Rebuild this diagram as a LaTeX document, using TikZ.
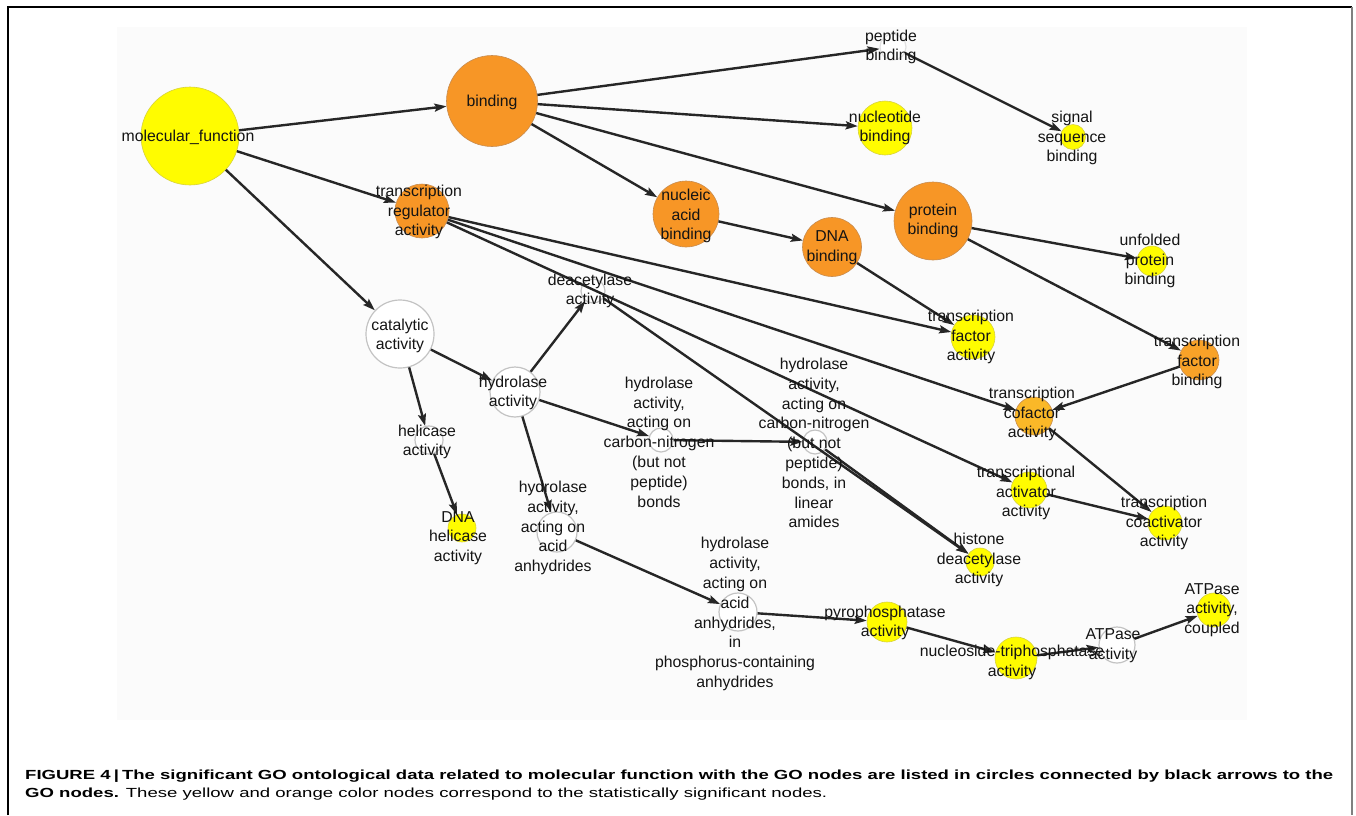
\documentclass[tikz,border=0pt]{standalone}
\usepackage{fontspec}
\setmainfont{Liberation Sans}
\usetikzlibrary{arrows.meta}
\definecolor{goyel}{RGB}{255,252,0}
\definecolor{goyeld}{RGB}{215,210,60}
\definecolor{goora}{RGB}{247,150,38}
\definecolor{goorad}{RGB}{200,140,80}
\definecolor{gogold}{RGB}{250,184,40}
\definecolor{gotfb}{RGB}{248,162,40}
\definecolor{edgec}{RGB}{38,38,38}
\definecolor{ringc}{RGB}{195,195,195}
\definecolor{bgc}{RGB}{251,251,251}
\definecolor{labc}{RGB}{20,20,20}
\begin{document}
\begin{tikzpicture}[x=1pt,y=-1pt,
  yelnode/.style={circle, inner sep=0pt, fill=goyel, draw=goyeld, line width=0.6pt, minimum size=#1},
  oranode/.style={circle, inner sep=0pt, fill=goora, draw=goorad, line width=0.6pt, minimum size=#1},
  goldnode/.style={circle, inner sep=0pt, fill=gogold, draw=goorad, line width=0.6pt, minimum size=#1},
  tfbnode/.style={circle, inner sep=0pt, fill=gotfb, draw=goorad, line width=0.6pt, minimum size=#1},
  whnode/.style={circle, inner sep=0pt, fill=white, draw=ringc, line width=1.2pt, minimum size=#1},
  golab/.style={align=center, inner sep=0pt, text=labc, font=\fontsize{15.8}{19.8}\selectfont},
  goarrow/.style={draw=edgec, line width=2.4pt, -{Stealth[length=12pt,width=8pt,inset=2pt]}},
  caplab/.style={anchor=base west, inner sep=0pt, text=black, font=\fontsize{13.2}{16}\selectfont}
]
\useasboundingbox (0,0) rectangle (1356,815);
% frame and screenshot background
\fill[white] (0,0) rectangle (1356,815);
\fill[bgc] (117,27) rectangle (1247,720);
\draw[black, line width=2pt] (8,815) -- (8,7) -- (1352,7);
\draw[gray, line width=2pt] (1352,7) -- (1352,815);

% circles
\node[yelnode=98pt] (mf) at (190,136) {};
\node[oranode=91pt] (binding) at (492,101) {};
\node[whnode=26pt, draw=ringc!50] (peptide) at (893,47) {};
\node[yelnode=54pt] (nucleotide) at (885,128) {};
\node[yelnode=25pt] (signal) at (1073,137) {};
\node[oranode=54pt] (transreg) at (422,211) {};
\node[oranode=66pt] (nucleic) at (686,214) {};
\node[oranode=59pt] (dnabind) at (832,247) {};
\node[oranode=78pt] (protein) at (933,221) {};
\node[yelnode=30pt] (unfolded) at (1152,261) {};
\node[whnode=68pt] (catalytic) at (400,334) {};
\node[whnode=24pt] (deacetylase) at (593,291) {};
\node[whnode=50pt] (hydrolase) at (515,392) {};
\node[whnode=28pt] (helicase) at (429,440) {};
\node[yelnode=28pt] (dnahel) at (462,528) {};
\node[whnode=24pt] (cnbonds) at (661,440) {};
\node[whnode=24pt] (cnlinear) at (815,442) {};
\node[yelnode=44pt] (tfact) at (973,337) {};
\node[tfbnode=40pt] (tfbind) at (1199,360) {};
\node[goldnode=38pt] (cofactor) at (1034,416) {};
\node[yelnode=36pt] (activator) at (1029,490) {};
\node[yelnode=34pt] (coactivator) at (1165,523) {};
\node[yelnode=28pt] (histone) at (980,562) {};
\node[whnode=40pt] (acidanh) at (557,532) {};
\node[whnode=38pt] (phosph) at (738,612) {};
\node[yelnode=40pt] (pyro) at (887,622) {};
\node[yelnode=42pt] (ntpase) at (1016,658) {};
\node[whnode=36pt] (atpase) at (1117,645) {};
\node[yelnode=34pt] (atpcoupled) at (1214,610) {};

% connectors
\draw[goarrow] (mf) -- (binding);
\draw[goarrow] (mf) -- (transreg);
\draw[goarrow] (mf) -- (catalytic);
\draw[goarrow] (binding) -- (peptide);
\draw[goarrow] (binding) -- (nucleotide);
\draw[goarrow] (binding) -- (protein);
\draw[goarrow] (binding) -- (nucleic);
\draw[goarrow] (peptide) -- (signal);
\draw[goarrow] (nucleic) -- (dnabind);
\draw[goarrow] (dnabind) -- (tfact);
\draw[goarrow] (protein) -- (unfolded);
\draw[goarrow] (protein) -- (tfbind);
\draw[goarrow] (transreg) -- (tfact);
\draw[goarrow] (transreg) -- (cofactor);
\draw[goarrow] (transreg) -- (activator);
\draw[goarrow] (tfbind) -- (cofactor);
\draw[goarrow] (cofactor) -- (coactivator);
\draw[goarrow] (activator) -- (coactivator);
\draw[goarrow] (catalytic) -- (hydrolase);
\draw[goarrow] (catalytic) -- (helicase);
\draw[goarrow] (helicase) -- (dnahel);
\draw[goarrow] (hydrolase) -- (deacetylase);
\draw[goarrow] (hydrolase) -- (cnbonds);
\draw[goarrow] (hydrolase) -- (acidanh);
\draw[goarrow] (cnbonds) -- (cnlinear);
\draw[goarrow] (deacetylase) -- (histone);
\draw[goarrow] (cnlinear) -- (histone);
\draw[goarrow] (acidanh) -- (phosph);
\draw[goarrow] (phosph) -- (pyro);
\draw[goarrow] (pyro) -- (ntpase);
\draw[goarrow] (ntpase) -- (atpase);
\draw[goarrow] (atpase) -- (atpcoupled);

% labels
\node[golab] (lmf) at (188,137) {molecular\_function};
\node[golab] (lbinding) at (492,102) {binding};
\node[golab] (lpeptide) at (891,47) {peptide\\binding};
\node[golab] (lnucleotide) at (885,128) {nucleotide\\binding};
\node[golab] (lsignal) at (1072,138) {signal\\sequence\\binding};
\node[golab] (ltransreg) at (419,212) {transcription\\regulator\\activity};
\node[golab] (lnucleic) at (686,216) {nucleic\\acid\\binding};
\node[golab] (ldnabind) at (832,248) {DNA\\binding};
\node[golab] (lprotein) at (933,221) {protein\\binding};
\node[golab] (lunfolded) at (1150,261) {unfolded\\protein\\binding};
\node[golab] (lcatalytic) at (400,336) {catalytic\\activity};
\node[golab] (ldeacetylase) at (590,291) {deacetylase\\activity};
\node[golab] (lhydrolase) at (513,393) {hydrolase\\activity};
\node[golab] (lhelicase) at (427,442) {helicase\\activity};
\node[golab] (ldnahel) at (458,538) {DNA\\helicase\\activity};
\node[golab] (lcnbonds) at (659,442) {hydrolase\\activity,\\acting on\\carbon-nitrogen\\(but not\\peptide)\\bonds};
\node[golab] (lcnlinear) at (814,443) {hydrolase\\activity,\\acting on\\carbon-nitrogen\\(but not\\peptide)\\bonds, in\\linear\\amides};
\node[golab] (ltfact) at (971,337) {transcription\\factor\\activity};
\node[golab] (ltfbind) at (1197,362) {transcription\\factor\\binding};
\node[golab] (lcofactor) at (1032,414) {transcription\\cofactor\\activity};
\node[golab] (lactivator) at (1026,493) {transcriptional\\activator\\activity};
\node[golab] (lcoactivator) at (1164,523) {transcription\\coactivator\\activity};
\node[golab] (lhistone) at (979,560) {histone\\deacetylase\\activity};
\node[golab] (lacidanh) at (553,528) {hydrolase\\activity,\\acting on\\acid\\anhydrides};
\node[golab] (lphosph) at (735,614) {hydrolase\\activity,\\acting on\\acid\\anhydrides,\\in\\phosphorus-containing\\anhydrides};
\node[golab] (lpyro) at (885,623) {pyrophosphatase\\activity};
\node[golab] (lntpase) at (1012,662) {nucleoside-triphosphatase\\activity};
\node[golab] (latpase) at (1113,646) {ATPase\\activity};
\node[golab] (latpcoupled) at (1212,610) {ATPase\\activity,\\coupled};

% caption
\node[caplab] (cap1) at (25,779) {\resizebox{1308pt}{\height}{\bfseries FIGURE 4\,|\,The significant GO ontological data related to molecular function with the GO nodes are listed in circles connected by black arrows to the}};
\node[caplab] (cap2) at (25,797) {\resizebox{802pt}{\height}{\textbf{GO nodes.} These yellow and orange color nodes correspond to the statistically significant nodes.}};
\end{tikzpicture}
\end{document}
